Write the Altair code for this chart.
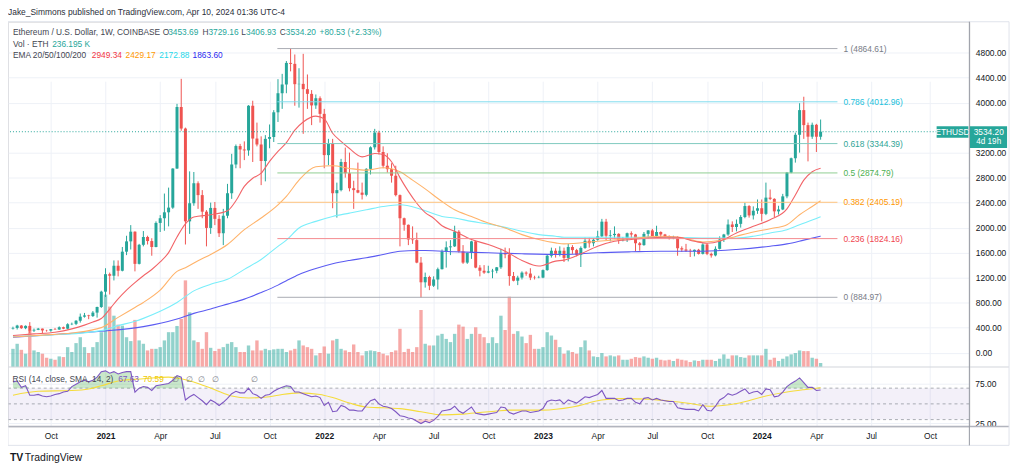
import altair as alt
import pandas as pd

FONT = "Liberation Sans"
UP = "#26a69a"
DOWN = "#ef5350"
INK = "#131722"

# ---------------- weekly candles (ETH/USD, weeks from 2020-08-03) ----------------
opens = [
    386, 395, 433, 391, 428, 353, 365, 384, 355, 352,
    375, 369, 406, 383, 454, 460, 510, 575, 595, 585,
    640, 730, 975, 1255, 1230, 1390, 1310, 1615, 1780, 1935,
    1420, 1725, 1850, 1785, 1690, 2075, 2150, 2245, 2320, 2945,
    3930, 3585, 2100, 2390, 2710, 2520, 2255, 1995, 2315, 2140,
    1910, 2190, 2550, 3010, 3305, 3250, 3235, 3950, 3425, 3330,
    3065, 3420, 3450, 3845, 4150, 4290, 4635, 4620, 4295, 4300,
    4215, 4140, 3955, 4070, 3820, 3160, 3340, 2550, 2600, 3050,
    2870, 2630, 2600, 2560, 2525, 2940, 3285, 3520, 3210, 2990,
    2935, 2830, 2520, 2150, 2045, 1810, 1800, 1440, 1125, 1210,
    1070, 1170, 1335, 1620, 1685, 1700, 1935, 1620, 1440, 1595,
    1780, 1360, 1310, 1280, 1300, 1310, 1365, 1595, 1570, 1225,
    1150, 1200, 1280, 1265, 1200, 1195, 1200, 1320, 1550, 1630,
    1580, 1630, 1515, 1690, 1640, 1565, 1675, 1790, 1750, 1805,
    1860, 2095, 1870, 1880, 1900, 1800, 1815, 1910, 1890, 1750,
    1720, 1900, 1955, 1865, 1930, 1890, 1860, 1830, 1850, 1670,
    1650, 1630, 1620, 1645, 1580, 1730, 1580, 1555, 1660, 1810,
    1890, 2050, 2010, 2060, 2170, 2345, 2195, 2270, 2310, 2220,
    2480, 2460, 2260, 2290, 2500, 2880, 3110, 3485, 3880, 3640,
    3455, 3645, 3453.69,
]
highs = [
    415, 445, 440, 436, 488, 385, 395, 385, 365, 378,
    395, 420, 416, 470, 480, 520, 625, 635, 605, 665,
    735, 990, 1350, 1280, 1475, 1475, 1690, 1870, 2040, 1940,
    1740, 1945, 1870, 1830, 2100, 2200, 2545, 2640, 2950, 3980,
    4380, 3600, 2900, 2890, 2740, 2600, 2280, 2400, 2410, 2200,
    2300, 2700, 3180, 3330, 3340, 3380, 3960, 4030, 3680, 3460,
    3480, 3650, 3880, 4375, 4460, 4665, 4865, 4770, 4550, 4780,
    4450, 4200, 4130, 4100, 3900, 3420, 3420, 2720, 3100, 3280,
    3200, 2750, 3040, 2720, 2950, 3300, 3580, 3550, 3300, 3190,
    3030, 2990, 2530, 2160, 2050, 2020, 1920, 1530, 1280, 1230,
    1220, 1360, 1650, 1780, 1800, 2030, 1960, 1720, 1600, 1790,
    1790, 1400, 1400, 1390, 1340, 1370, 1660, 1680, 1670, 1290,
    1230, 1300, 1300, 1350, 1230, 1230, 1330, 1570, 1680, 1670,
    1700, 1680, 1740, 1720, 1660, 1700, 1840, 1840, 1830, 1950,
    2140, 2140, 1960, 2020, 1910, 1850, 1920, 1940, 1900, 1770,
    1930, 1960, 1980, 2030, 1940, 1900, 1875, 1870, 1860, 1700,
    1740, 1660, 1650, 1660, 1750, 1750, 1600, 1700, 1860, 1900,
    2130, 2100, 2130, 2200, 2400, 2360, 2340, 2450, 2450, 2720,
    2610, 2470, 2350, 2540, 2890, 3120, 3520, 3990, 4094, 3680,
    3680, 3660, 3729.16,
]
lows = [
    370, 370, 380, 375, 310, 330, 360, 310, 335, 335,
    365, 365, 375, 372, 440, 440, 480, 560, 535, 570,
    560, 715, 890, 930, 1155, 1220, 1300, 1560, 1650, 1300,
    1410, 1700, 1730, 1550, 1685, 1930, 1950, 2020, 2300, 2940,
    3550, 1730, 1900, 2350, 2300, 2150, 1700, 1900, 2040, 1850,
    1720, 2150, 2460, 2950, 2950, 3080, 3150, 3050, 3300, 2680,
    2740, 3270, 3370, 3690, 3900, 4150, 4500, 3950, 3920, 3500,
    3900, 3640, 3900, 3680, 2950, 3000, 2310, 2160, 2580, 2800,
    2580, 2300, 2550, 2450, 2500, 2850, 3250, 3170, 2950, 2880,
    2720, 2500, 1700, 1950, 1720, 1740, 1430, 880, 1040, 1000,
    1050, 1010, 1330, 1360, 1560, 1690, 1600, 1420, 1420, 1500,
    1350, 1220, 1260, 1270, 1190, 1270, 1340, 1510, 1070, 1140,
    1080, 1170, 1230, 1160, 1170, 1190, 1190, 1310, 1520, 1520,
    1540, 1450, 1460, 1580, 1540, 1370, 1660, 1680, 1700, 1790,
    1850, 1800, 1780, 1820, 1740, 1780, 1770, 1830, 1620, 1630,
    1710, 1820, 1840, 1840, 1850, 1830, 1810, 1815, 1550, 1610,
    1610, 1530, 1540, 1570, 1570, 1560, 1520, 1540, 1650, 1770,
    1870, 1930, 1940, 2000, 2150, 2160, 2130, 2220, 2100, 2200,
    2440, 2170, 2210, 2280, 2470, 2870, 3040, 3200, 3420, 3060,
    3420, 3210, 3406.93,
]
closes = [
    395, 433, 391, 428, 353, 365, 384, 355, 352, 375,
    369, 406, 383, 454, 460, 510, 575, 595, 585, 640,
    730, 975, 1255, 1230, 1390, 1310, 1615, 1780, 1935, 1420,
    1725, 1850, 1785, 1690, 2075, 2150, 2245, 2320, 2945, 3930,
    3585, 2100, 2390, 2710, 2520, 2255, 1995, 2315, 2140, 1910,
    2190, 2550, 3010, 3305, 3250, 3235, 3950, 3425, 3330, 3065,
    3420, 3450, 3845, 4150, 4290, 4635, 4620, 4295, 4300, 4215,
    4140, 3955, 4070, 3820, 3160, 3340, 2550, 2600, 3050, 2870,
    2630, 2600, 2560, 2525, 2940, 3285, 3520, 3210, 2990, 2935,
    2830, 2520, 2150, 2045, 1810, 1800, 1440, 1125, 1210, 1070,
    1170, 1335, 1620, 1685, 1700, 1935, 1620, 1440, 1595, 1780,
    1360, 1310, 1280, 1300, 1310, 1365, 1595, 1570, 1225, 1150,
    1200, 1280, 1265, 1200, 1195, 1200, 1320, 1550, 1630, 1580,
    1630, 1515, 1690, 1640, 1565, 1675, 1790, 1750, 1805, 1860,
    2095, 1870, 1880, 1900, 1800, 1815, 1910, 1890, 1750, 1720,
    1900, 1955, 1865, 1930, 1890, 1860, 1830, 1850, 1670, 1650,
    1630, 1620, 1645, 1580, 1730, 1580, 1555, 1660, 1810, 1890,
    2050, 2010, 2060, 2170, 2345, 2195, 2270, 2310, 2220, 2480,
    2460, 2260, 2290, 2500, 2880, 3110, 3485, 3880, 3640, 3455,
    3645, 3454, 3534.20,
]
# weekly volume, thousands of ETH
volumes = [
    1080, 1380, 1020, 790, 2200, 985, 890, 790, 550, 490,
    430, 630, 590, 1180, 890, 1420, 1770, 1180, 830, 1180,
    1480, 2070, 4300, 3590, 3050, 2520, 2460, 1770, 1540, 2800,
    1580, 1380, 985, 1080, 1080, 1180, 1580, 2070, 2070, 2440,
    2860, 5150, 3250, 1580, 1480, 1080, 2070, 1140, 950, 1080,
    1180, 1380, 1480, 1180, 890, 890, 1280, 985, 1580, 985,
    1080, 1000, 1050, 1080, 1080, 890, 985, 1080, 1580, 1280,
    1180, 1080, 690, 830, 1220, 790, 1580, 1670, 1080, 985,
    890, 1340, 890, 690, 945, 985, 945, 890, 790, 690,
    890, 985, 2270, 890, 1080, 890, 1180, 3390, 1380, 1280,
    1280, 1870, 1970, 1670, 1480, 1970, 2520, 2400, 1670, 1970,
    2360, 1970, 1770, 1420, 1770, 1420, 3050, 2200, 4180, 1970,
    2130, 1810, 1420, 1910, 1080, 1080, 1180, 2070, 1870, 1620,
    1180, 790, 985, 890, 790, 1180, 1580, 985, 630, 590,
    830, 630, 690, 630, 690, 430, 430, 490, 590, 550,
    630, 550, 490, 550, 430, 390, 430, 355, 490, 430,
    390, 295, 390, 355, 430, 430, 430, 355, 490, 750,
    490, 690, 690, 590, 550, 690, 690, 690, 690, 1080,
    430, 550, 355, 490, 630, 750, 830, 985, 945, 945,
    550, 490, 236.195,
]
# RSI(14) weekly
rsi_values = [
    78, 79, 71, 73, 61, 61, 62, 60, 59, 60,
    62, 63, 65, 66, 72, 75, 78, 80, 78, 80,
    84, 91, 92, 89, 91, 88, 90, 91, 91, 65,
    70, 72, 71, 67, 73, 74, 75, 76, 80, 86,
    84, 55, 59, 62, 58, 54, 49, 55, 52, 48,
    52, 57, 63, 66, 64, 64, 70, 63, 61, 57,
    61, 62, 66, 69, 71, 73, 72, 65, 65, 63,
    61, 59, 60, 58, 48, 52, 40, 41, 48, 46,
    42, 42, 41, 41, 48, 54, 56, 50, 47, 46,
    44, 40, 35, 34, 32, 31, 28, 25, 28, 26,
    29, 34, 41, 42, 43, 47, 41, 38, 42, 46,
    38, 37, 36, 37, 38, 39, 46, 45, 39, 37,
    39, 41, 41, 39, 40, 41, 44, 53, 55, 54,
    55, 50, 55, 53, 51, 55, 59, 58, 60, 62,
    67, 57, 57, 57, 54, 55, 57, 57, 52, 50,
    57, 58, 55, 57, 55, 54, 53, 53, 45, 44,
    43, 43, 43, 41, 49, 42, 41, 47, 55, 58,
    63, 61, 63, 66, 69, 63, 65, 66, 62, 69,
    68, 59, 60, 65, 72, 76, 79, 83, 77, 71,
    71, 67, 67.63,
]
# RSI-based SMA(14) (week index, value)
rsi_ma_idx = [0, 6, 14, 18, 21, 25, 31, 37, 40, 44, 48, 52, 56, 61, 64, 68, 73, 76, 80, 84,
              88, 92, 97, 102, 107, 111, 115, 118, 126, 133, 140, 145, 151, 157, 161, 166,
              172, 179, 184, 188, 192]
rsi_ma_val = [61, 66, 67, 69, 73, 79, 82, 84, 82, 76, 68, 60, 57.5, 59, 62, 64, 62, 58, 51, 46,
              45, 44, 40, 36, 37, 39, 41, 42, 42, 46, 55, 56.7, 56, 53, 50.4, 47,
              50.4, 60, 65, 68, 70.59]

# EMA lines (week index, value)
ema20_idx = [0, 5, 10, 14, 17, 19, 21, 23, 25, 27, 29, 31, 33, 35, 37, 39, 41, 43, 47, 51, 53, 55,
             57, 59, 61, 63, 65, 67, 69, 72, 74, 76, 78, 80, 83, 86, 88, 90, 92, 94, 96, 98, 100,
             102, 105, 109, 113, 117, 121, 125, 129, 131, 135, 139, 143, 147, 151, 155, 158, 162,
             165, 168, 172, 176, 180, 184, 186, 188, 190, 192]
ema20_val = [275, 300, 326, 380, 440, 490, 545, 697, 860, 1000, 1120, 1230, 1330, 1450, 1600, 1850,
             2060, 2170, 2206, 2270, 2430, 2660, 2790, 2870, 3060, 3220, 3360, 3560, 3690, 3784,
             3740, 3510, 3380, 3265, 3132, 3185, 3170, 3053, 2800, 2580, 2390, 2240, 2150, 2030,
             1941, 1809, 1729, 1623, 1475, 1385, 1464, 1480, 1580, 1703, 1782, 1809, 1835, 1846,
             1846, 1782, 1750, 1782, 1914, 2020, 2126, 2300, 2523, 2760, 2894, 2949.34]
ema50_idx = [0, 7, 14, 21, 25, 29, 31, 35, 39, 41, 44, 47, 51, 55, 59, 63, 65, 68, 72, 76, 80, 84,
             88, 92, 95, 98, 102, 105, 109, 113, 117, 121, 125, 129, 131, 139, 147, 154, 158, 164,
             168, 172, 176, 180, 184, 187, 190, 192]
ema50_val = [250, 280, 315, 400, 564, 723, 803, 1000, 1300, 1359, 1470, 1570, 1729, 1967, 2153,
             2365, 2500, 2760, 2973, 2989, 2947, 2920, 2957, 2894, 2760, 2620, 2417, 2285, 2179,
             2073, 1994, 1888, 1809, 1756, 1740, 1782, 1825, 1862, 1850, 1771, 1793, 1862, 1930,
             1983, 2047, 2206, 2338, 2429.17]
ema100_idx = [0, 10, 21, 25, 29, 31, 35, 39, 43, 47, 51, 55, 59, 63, 65, 68, 72, 76, 80, 84, 88,
              92, 96, 98, 102, 105, 109, 113, 117, 121, 125, 129, 131, 140, 150, 160, 165, 172,
              176, 180, 184, 187, 190, 192]
ema100_val = [257, 285, 352, 432, 501, 548, 660, 803, 988, 1094, 1173, 1332, 1491, 1700, 1800,
              1994, 2100, 2179, 2232, 2285, 2338, 2365, 2315, 2270, 2179, 2153, 2100, 2057, 2004,
              1941, 1888, 1862, 1846, 1846, 1846, 1840, 1835, 1835, 1862, 1914, 1967, 2047, 2120,
              2172.88]
ema200_idx = [0, 10, 21, 31, 39, 43, 47, 51, 55, 59, 63, 65, 68, 72, 76, 80, 84, 88, 92, 96, 98,
              105, 113, 121, 131, 139, 147, 154, 164, 172, 180, 184, 188, 192]
ema200_val = [246, 290, 342, 416, 538, 628, 697, 776, 856, 962, 1080, 1150, 1250, 1345, 1422, 1475,
              1517, 1570, 1623, 1634, 1634, 1613, 1597, 1581, 1570, 1597, 1613, 1623, 1623, 1650,
              1703, 1740, 1800, 1863.60]

# Fibonacci retracement
fib_ratio = ["1", "0.786", "0.618", "0.5", "0.382", "0.236", "0"]
fib_price = [4864.61, 4012.96, 3344.39, 2874.79, 2405.19, 1824.16, 884.97]
fib_line_color = ["#a9abb3", "#7fdcef", "#7ec9be", "#8fce92", "#ffc27a", "#f48a8f", "#a9abb3"]
fib_text_color = ["#787b86", "#22c1dc", "#2fa596", "#4caf50", "#ff9800", "#f0464f", "#787b86"]
fib_start = "2021-10-17"
fib_end = "2024-05-06"

# 3600.00 sits behind the last-price box in the reference, so it is not listed
price_ticks = [0, 400, 800, 1200, 1600, 2000, 2400, 2800, 3200, 4000, 4400, 4800]
rsi_ticks = [75, 25]
rsi_levels = [70, 50, 30]
last_price = 3534.20

# ---------------- frames ----------------
dates = pd.date_range("2020-08-03", periods=len(closes), freq="7D")
dstr = [d.strftime("%Y-%m-%d") for d in dates]

candles = pd.DataFrame({
    "date": dstr, "open": opens, "high": highs, "low": lows, "close": closes,
    "vol": volumes, "rsi": rsi_values,
})
candles["dir"] = ["up" if c >= o else "down" for o, c in zip(opens, closes)]


def series(idx, val):
    return pd.DataFrame({"date": [dstr[i] for i in idx], "v": val})


W, H = 969, 408
price_scale = alt.Scale(domain=[-230, 5294], range=[348, 0], nice=False, zero=False)
vol_scale = alt.Scale(domain=[0, 20530], range=[348, 0], nice=False, zero=False)
rsi_scale = alt.Scale(domain=[21.2, 96.9], range=[408, 348], nice=False, zero=False)
x_scale = alt.Scale(type="utc", domain=[alt.DateTime(year=2020, month=8, date=3, utc=True),
                                        alt.DateTime(year=2024, month=12, date=3, hours=7, utc=True)])

quarters = [(2020, 10, 5), (2021, 1, 4), (2021, 4, 5), (2021, 7, 5), (2021, 10, 4), (2022, 1, 3),
            (2022, 4, 4), (2022, 7, 4), (2022, 10, 3), (2023, 1, 2), (2023, 4, 3), (2023, 7, 3),
            (2023, 10, 2), (2024, 1, 1), (2024, 4, 1), (2024, 7, 1), (2024, 10, 7)]
x_axis = alt.Axis(
    values=[alt.DateTime(year=y, month=m, date=d, utc=True) for y, m, d in quarters],
    labelExpr="utcmonth(datum.value) == 0 ? utcFormat(datum.value, '%Y') : utcFormat(datum.value, '%b')",
    labelFontWeight=alt.condition("utcmonth(datum.value) == 0", alt.value("bold"), alt.value("normal")),
    grid=True, gridColor="#eef1f7", domain=False, ticks=False, labelPadding=5,
    labelFontSize=8.5, labelColor=INK, labelFont=FONT, title=None, labelAngle=0,
    labelOverlap=False, labelFlush=False, labelBound=False,
)
price_axis = alt.Axis(
    orient="right", values=price_ticks, format=".2f", grid=True, gridColor="#eef1f7",
    domain=False, ticks=False, labelPadding=6, labelFontSize=8.5, labelColor=INK,
    labelFont=FONT, title=None, labelOverlap=False, labelFlush=False,
)

X = alt.X("date:T", scale=x_scale, axis=x_axis)
dir_color = alt.Color("dir:N", scale=alt.Scale(domain=["up", "down"], range=[UP, DOWN]), legend=None)

dummy = pd.DataFrame({"k": [0]})


def txt(t, x, y, color=INK, size=8.4, weight="normal", align="left"):
    return alt.Chart(dummy).mark_text(
        text=t, align=align, baseline="middle", fontSize=size, fontWeight=weight,
        color=color, font=FONT,
    ).encode(x=alt.value(x), y=alt.value(y))


def hline(y, x0, x1, color, w=1.0):
    return alt.Chart(dummy).mark_rule(color=color, strokeWidth=w).encode(
        x=alt.value(x0), x2=alt.value(x1), y=alt.value(y))


def vline(x, y0, y1, color, w=1.0):
    return alt.Chart(dummy).mark_rule(color=color, strokeWidth=w).encode(
        x=alt.value(x), y=alt.value(y0), y2=alt.value(y1))


layers = []

# RSI pane background band and levels
layers.append(alt.Chart(pd.DataFrame({"hi": [70], "lo": [30]})).mark_rect(
    color="#7e57c2", opacity=0.09).encode(
    x=alt.value(0), x2=alt.value(W),
    y=alt.Y("hi:Q", scale=rsi_scale, axis=None), y2="lo:Q"))
layers.append(alt.Chart(pd.DataFrame({"t": rsi_ticks})).mark_rule(color="#eef1f7").encode(
    y=alt.Y("t:Q", scale=rsi_scale, axis=None)))
layers.append(alt.Chart(pd.DataFrame({"lvl": rsi_levels})).mark_rule(
    color="#9598a1", strokeDash=[3, 3], opacity=0.8).encode(
    y=alt.Y("lvl:Q", scale=rsi_scale, axis=None)))

# volume
layers.append(alt.Chart(candles).mark_bar(size=3.4, opacity=0.5).encode(
    x=X, y=alt.Y("vol:Q", scale=vol_scale, axis=None), y2=alt.datum(0), color=dir_color))

# candles
layers.append(alt.Chart(candles).mark_rule(strokeWidth=1).encode(
    x=X, y=alt.Y("low:Q", scale=price_scale, axis=price_axis), y2="high:Q", color=dir_color))
layers.append(alt.Chart(candles).mark_bar(size=3).encode(
    x=X, y=alt.Y("open:Q", scale=price_scale, axis=None), y2="close:Q", color=dir_color))

# EMAs
for idx, val, col in [(ema200_idx, ema200_val, "#5b5bf2"), (ema100_idx, ema100_val, "#79eefa"),
                      (ema50_idx, ema50_val, "#ffb36a"), (ema20_idx, ema20_val, "#f26468")]:
    layers.append(alt.Chart(series(idx, val)).mark_line(
        color=col, strokeWidth=1.1, interpolate="monotone").encode(
        x=X, y=alt.Y("v:Q", scale=price_scale, axis=None)))

# Fibonacci levels
for r, p, lc, tc in zip(fib_ratio, fib_price, fib_line_color, fib_text_color):
    fd = pd.DataFrame({"date": [fib_start], "x1": [fib_end], "p": [p],
                       "label": [f"{r} ({p:.2f})"]})
    layers.append(alt.Chart(fd).mark_rule(color=lc, strokeWidth=1).encode(
        x=X, x2="x1:T", y=alt.Y("p:Q", scale=price_scale, axis=None)))
    layers.append(alt.Chart(fd).mark_text(
        align="left", baseline="middle", dx=6, fontSize=8.5, color=tc, font=FONT).encode(
        x=alt.X("x1:T", scale=x_scale, axis=x_axis), y=alt.Y("p:Q", scale=price_scale, axis=None),
        text="label:N"))

# last price line and labels
lp = pd.DataFrame({"p": [last_price]})
layers.append(alt.Chart(lp).mark_rule(color=UP, strokeDash=[1, 2], strokeWidth=1).encode(
    y=alt.Y("p:Q", scale=price_scale, axis=None)))
layers.append(alt.Chart(lp).mark_rect(color=UP, yOffset=-5.5, y2Offset=6).encode(
    x=alt.value(936), x2=alt.value(968), y=alt.Y("p:Q", scale=price_scale, axis=None), y2="p:Q"))
layers.append(alt.Chart(lp).mark_rect(color=UP, yOffset=-5.5, y2Offset=16.5).encode(
    x=alt.value(969.5), x2=alt.value(1007), y=alt.Y("p:Q", scale=price_scale, axis=None), y2="p:Q"))
layers.append(alt.Chart(lp).mark_text(text="ETHUSD", color="white", fontSize=8.4, font=FONT,
                                      align="center", baseline="middle").encode(
    x=alt.value(952), y=alt.Y("p:Q", scale=price_scale, axis=None)))
layers.append(alt.Chart(lp).mark_text(color="white", fontSize=8.4, font=FONT,
                                      align="center", baseline="middle").encode(
    x=alt.value(988.5), y=alt.Y("p:Q", scale=price_scale, axis=None),
    text=alt.Text("p:Q", format=".2f")))
layers.append(alt.Chart(lp).mark_text(text="4d 19h", color="white", fontSize=8.2, font=FONT,
                                      align="center", baseline="middle", dy=10.5).encode(
    x=alt.value(988.5), y=alt.Y("p:Q", scale=price_scale, axis=None)))

# RSI fills and lines
rsi_base = alt.Chart(candles)
layers.append(rsi_base.transform_calculate(ob="max(datum.rsi, 70)").mark_area(
    color="#4caf50", opacity=0.3).encode(
    x=X, y=alt.Y("ob:Q", scale=rsi_scale, axis=None), y2=alt.datum(70)))
layers.append(rsi_base.transform_calculate(os="min(datum.rsi, 30)").mark_area(
    color="#f44336", opacity=0.25).encode(
    x=X, y=alt.Y("os:Q", scale=rsi_scale, axis=None), y2=alt.datum(30)))
layers.append(alt.Chart(series(rsi_ma_idx, rsi_ma_val)).mark_line(
    color="#f5dc3c", strokeWidth=1.1, interpolate="monotone").encode(
    x=X, y=alt.Y("v:Q", scale=rsi_scale, axis=None)))
layers.append(rsi_base.mark_line(color="#7e57c2", strokeWidth=1.1).encode(
    x=X, y=alt.Y("rsi:Q", scale=rsi_scale, axis=None)))
layers.append(alt.Chart(pd.DataFrame({"t": rsi_ticks})).mark_text(
    align="left", baseline="middle", fontSize=8.5, color=INK, font=FONT).encode(
    x=alt.value(W + 6), y=alt.Y("t:Q", scale=rsi_scale, axis=None),
    text=alt.Text("t:Q", format=".2f")))

# frame lines
FR = "#e0e3eb"
layers += [
    hline(0, 0, 1009, FR), hline(348, 0, 1009, "#d1d4dc"), hline(408, 0, 1009, "#b2b5be", 1.5),
    hline(427, 0, 1009, FR), vline(0, 0, 427, FR), vline(1009, 0, 427, FR),
    vline(969, 0, 427, "#9598a1"),
]

# header & legends
layers += [
    txt("Jake_Simmons published on TradingView.com, Apr 10, 2024 01:36 UTC-4", 0, -9.5, "#2a2e39", 8.5),
    txt("Ethereum / U.S. Dollar, 1W, COINBASE", 5, 10, "#434651"),
    txt("O", 156, 10, "#434651"), txt("3453.69", 161.5, 10, UP),
    txt("H", 196, 10, "#434651"), txt("3729.16", 202, 10, UP),
    txt("L", 235, 10, "#434651"), txt("3406.93", 240, 10, UP),
    txt("C", 274, 10, "#434651"), txt("3534.20", 280, 10, UP),
    txt("+80.53 (+2.33%)", 314, 10, UP),
    txt("Vol · ETH", 5, 22.5, "#434651"), txt("236.195 K", 44.5, 22.5, UP),
    txt("EMA 20/50/100/200", 5, 33.5, "#434651"),
    txt("2949.34", 84.5, 33.5, "#f23645"), txt("2429.17", 118.5, 33.5, "#ff9800"),
    txt("2172.88", 152.5, 33.5, "#1fd8ea"), txt("1863.60", 186, 33.5, "#2a2af0"),
    txt("RSI (14, close, SMA, 14, 2)", 4.5, 360, "#434651"),
    txt("67.63", 111, 360, "#7e57c2"), txt("70.59", 136, 360, "#f0c800"),
    txt("∅", 165, 360, "#787b86"), txt("∅", 179, 360, "#787b86"), txt("∅", 192, 360, "#787b86"),
    txt("∅", 206, 360, "#787b86"), txt("∅", 245, 360, "#787b86"),
    txt("TV", 2, 440, INK, 10.5, "bold"),
    txt("TradingView", 17, 440, INK, 10.5),
]

chart = alt.layer(*layers).resolve_scale(y="independent").properties(
    width=W, height=H,
    autosize=alt.AutoSizeParams(type="none"),
    padding={"left": 0, "top": 12, "right": 47, "bottom": 44},
    background="white",
).configure_view(stroke=None).configure(font=FONT)

chart.save("out.html", embed_options={"renderer": "svg", "actions": False})
